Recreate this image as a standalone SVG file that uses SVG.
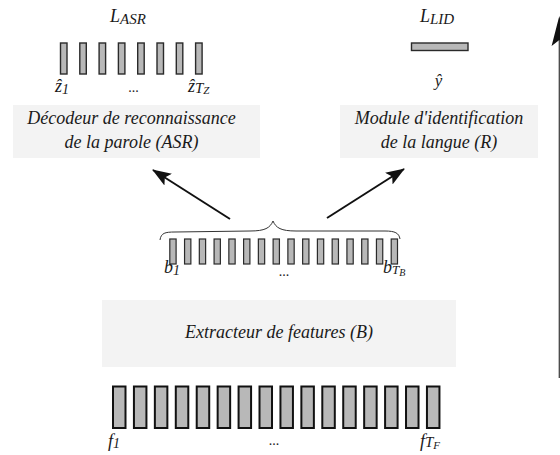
<svg xmlns="http://www.w3.org/2000/svg" width="560" height="455" viewBox="0 0 560 455">
<style>
text{font-family:"Liberation Serif","Times New Roman",serif;font-style:italic;fill:#1a1a1a}
.lbl{font-size:18px}
.box{fill:#f3f3f3}
.bz{fill:#b8b8b8;stroke:#2a2a2a;stroke-width:1.4}
.bb{fill:#b8b8b8;stroke:#2a2a2a;stroke-width:1.2}
.bf{fill:#b8b8b8;stroke:#111;stroke-width:2}
.arr{stroke:#111;stroke-width:2;fill:none}
.dots{font-size:14px;font-style:normal}
</style>
<defs>
<marker id="ah" markerUnits="userSpaceOnUse" markerWidth="24" markerHeight="16" refX="18" refY="0" viewBox="0 -8 24 16" orient="auto">
<path d="M0,-7 L19,0 L0,7 L4,0 Z" fill="#111"/>
</marker>
</defs>
<rect width="560" height="455" fill="#fff"/>

<g id="asr">
<rect class="box" x="13" y="105" width="247" height="53"/>
<text class="lbl" x="131.5" y="124" text-anchor="middle">Décodeur de reconnaissance</text>
<text class="lbl" x="131.5" y="148" text-anchor="middle">de la parole (ASR)</text>
</g>

<g id="asr-out">
<text x="110" y="22" font-size="18">L<tspan font-size="15" dy="2">ASR</tspan></text>
<rect class="bz" x="60.5" y="43" width="6.5" height="31"/>
<rect class="bz" x="79.8" y="43" width="6.5" height="31"/>
<rect class="bz" x="99.1" y="43" width="6.5" height="31"/>
<rect class="bz" x="118.4" y="43" width="6.5" height="31"/>
<rect class="bz" x="137.7" y="43" width="6.5" height="31"/>
<rect class="bz" x="157" y="43" width="6.5" height="31"/>
<rect class="bz" x="176.3" y="43" width="6.5" height="31"/>
<rect class="bz" x="195.6" y="43" width="6.5" height="31"/>
<text x="55" y="92" font-size="18">ẑ<tspan font-size="14" dy="2">1</tspan></text>
<text class="dots" x="133.5" y="92" text-anchor="middle">...</text>
<text x="188" y="92" font-size="18">ẑ<tspan font-size="15" dy="1">T</tspan><tspan font-size="11" dy="1">Z</tspan></text>
</g>

<g id="lid">
<rect class="box" x="340" y="105" width="198" height="53"/>
<text class="lbl" x="439" y="124" text-anchor="middle">Module d'identification</text>
<text class="lbl" x="439" y="148" text-anchor="middle">de la langue (R)</text>
</g>

<g id="lid-out">
<text x="420" y="22" font-size="18">L<tspan font-size="15" dy="2">LID</tspan></text>
<rect class="bz" x="411.5" y="43" width="56.5" height="7.5" stroke-width="1.8"/>
<text x="438.5" y="86" font-size="17" text-anchor="middle">ŷ</text>
</g>

<g id="features-b">
<path d="M160,240 C161,233 165,232 175,232 L250,231 C265,231 270,228 273,221 C276,228 281,231 296,231 L385,231 C395,231 399,233 400,239" fill="none" stroke="#333" stroke-width="1"/>
<rect class="bb" x="169.8" y="239" width="6.3" height="25"/>
<rect class="bb" x="184.56" y="239" width="6.3" height="25"/>
<rect class="bb" x="199.32" y="239" width="6.3" height="25"/>
<rect class="bb" x="214.08" y="239" width="6.3" height="25"/>
<rect class="bb" x="228.84" y="239" width="6.3" height="25"/>
<rect class="bb" x="243.6" y="239" width="6.3" height="25"/>
<rect class="bb" x="258.36" y="239" width="6.3" height="25"/>
<rect class="bb" x="273.12" y="239" width="6.3" height="25"/>
<rect class="bb" x="287.88" y="239" width="6.3" height="25"/>
<rect class="bb" x="302.64" y="239" width="6.3" height="25"/>
<rect class="bb" x="317.4" y="239" width="6.3" height="25"/>
<rect class="bb" x="332.16" y="239" width="6.3" height="25"/>
<rect class="bb" x="346.92" y="239" width="6.3" height="25"/>
<rect class="bb" x="361.68" y="239" width="6.3" height="25"/>
<rect class="bb" x="376.44" y="239" width="6.3" height="25"/>
<rect class="bb" x="391.2" y="239" width="6.3" height="25"/>
<text x="164" y="273" font-size="18">b<tspan font-size="14" dy="2">1</tspan></text>
<text class="dots" x="284" y="276" text-anchor="middle">...</text>
<text x="383" y="273" font-size="18">b<tspan font-size="13" dy="1">T</tspan><tspan font-size="10" dy="2">B</tspan></text>
</g>

<g id="extractor">
<rect class="box" x="102" y="300" width="354" height="67"/>
<text class="lbl" x="279" y="338" text-anchor="middle">Extracteur de features (B)</text>
</g>

<g id="features-f">
<rect class="bf" x="113" y="386.5" width="12.5" height="41.5"/>
<rect class="bf" x="133.93" y="386.5" width="12.5" height="41.5"/>
<rect class="bf" x="154.86" y="386.5" width="12.5" height="41.5"/>
<rect class="bf" x="175.79" y="386.5" width="12.5" height="41.5"/>
<rect class="bf" x="196.72" y="386.5" width="12.5" height="41.5"/>
<rect class="bf" x="217.65" y="386.5" width="12.5" height="41.5"/>
<rect class="bf" x="238.58" y="386.5" width="12.5" height="41.5"/>
<rect class="bf" x="259.51" y="386.5" width="12.5" height="41.5"/>
<rect class="bf" x="280.44" y="386.5" width="12.5" height="41.5"/>
<rect class="bf" x="301.37" y="386.5" width="12.5" height="41.5"/>
<rect class="bf" x="322.3" y="386.5" width="12.5" height="41.5"/>
<rect class="bf" x="343.23" y="386.5" width="12.5" height="41.5"/>
<rect class="bf" x="364.16" y="386.5" width="12.5" height="41.5"/>
<rect class="bf" x="385.09" y="386.5" width="12.5" height="41.5"/>
<rect class="bf" x="406.02" y="386.5" width="12.5" height="41.5"/>
<rect class="bf" x="426.95" y="386.5" width="12.5" height="41.5"/>
<text x="108" y="447" font-size="18">f<tspan font-size="14" dy="1">1</tspan></text>
<text class="dots" x="274" y="445" text-anchor="middle">...</text>
<text x="420" y="447" font-size="18">f<tspan font-size="15" dy="0">T</tspan><tspan font-size="11" dy="2">F</tspan></text>
</g>

<g id="connectors">
<line class="arr" x1="230" y1="219" x2="153" y2="170" marker-end="url(#ah)"/>
<line class="arr" x1="327" y1="218" x2="404" y2="169" marker-end="url(#ah)"/>
<line x1="559.3" y1="378" x2="559.3" y2="30" stroke="#444" stroke-width="1.3"/>
<path d="M559.3,16 L567,46 L559.3,40 L551.6,46 Z" fill="#111"/>
</g>
</svg>
